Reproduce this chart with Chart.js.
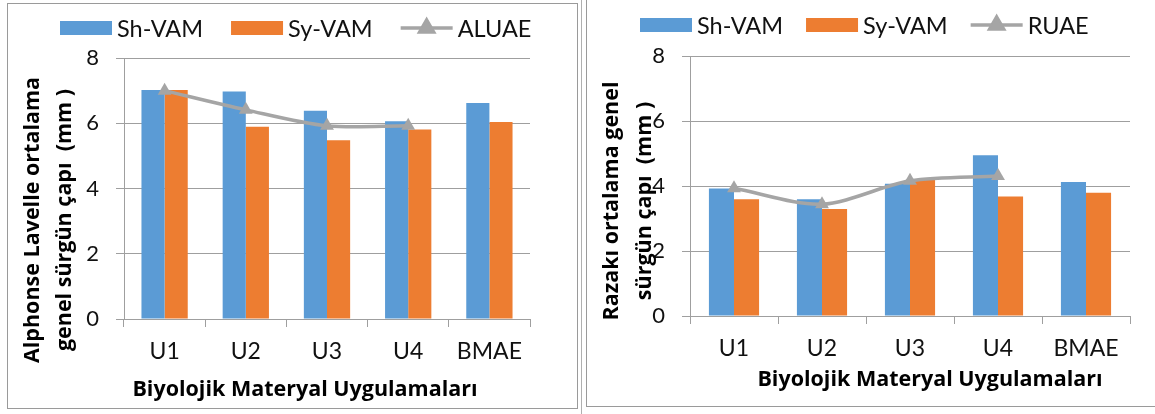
<!DOCTYPE html>
<html lang="tr">
<head>
<meta charset="utf-8">
<title>Sürgün çapı grafikleri</title>
<script src="https://cdn.jsdelivr.net/npm/chart.js@4.4.1/dist/chart.umd.min.js"></script>
<style>
  html, body { margin: 0; padding: 0; background: #fff; }
  body { width: 1155px; height: 414px; position: relative; overflow: hidden; }
  .frame { position: absolute; box-sizing: border-box; }
  #frameLeft { left: 7px; top: 3px; width: 571px; height: 406px; border: 1px solid #9a9a9a; }
  #frameRight { left: 586px; top: 0; width: 580px; height: 407px; border-left: 1px solid #9a9a9a; border-bottom: 1px solid #9a9a9a; }
  #sep { left: 581px; top: 0; width: 1px; height: 414px; background: #b0b0b0; }
  .box { position: absolute; }
  #boxLeft { left: 7px; top: 3px; width: 570px; height: 405px; }
  #boxRight { left: 587px; top: 3px; width: 568px; height: 405px; }
  canvas { display: block; }
</style>
</head>
<body>
<div class="frame" id="frameLeft"></div>
<div class="frame" id="sep"></div>
<div class="frame" id="frameRight"></div>
<div class="box" id="boxLeft"><canvas id="chartLeft"></canvas></div>
<div class="box" id="boxRight"><canvas id="chartRight"></canvas></div>
<script>
// Categories (biological material treatments)
const categories = ['U1', 'U2', 'U3', 'U4', 'BMAE'];

// Alphonse Lavelle mean shoot diameter (mm)
const alShVam = [7.02, 6.97, 6.38, 6.06, 6.62];
const alSyVam = [7.02, 5.89, 5.48, 5.81, 6.04];
const aluae   = [7.00, 6.41, 5.92, 5.92, null];

// Razakı mean shoot diameter (mm)
const rzShVam = [3.92, 3.59, 4.07, 4.95, 4.12];
const rzSyVam = [3.59, 3.29, 4.20, 3.68, 3.79];
const ruae    = [3.93, 3.44, 4.16, 4.31, null];

// Y axis tick values
const yTicks = [0, 2, 4, 6, 8];

const BLUE = '#5B9BD5';
const ORANGE = '#ED7D31';
const GREY = '#A5A5A5';
const GRID = '#9f9f9f';
const TEXT = '#111111';
const FONT = 'Lato';
const TITLE_FONT = '"Open Sans"';

// Legend drawn in a single row: bar swatches and a line-with-marker sample
const rowLegend = {
  id: 'rowLegend',
  afterDraw(chart, args, o) {
    const ctx = chart.ctx;
    ctx.save();
    ctx.font = `${o.size}px ${FONT}`;
    ctx.textBaseline = 'middle';
    ctx.textAlign = 'left';
    let x = o.x;
    const y = o.y;
    o.order.forEach(i => {
      const ds = chart.data.datasets[i];
      const w = 52;
      if (ds.type === 'line') {
        ctx.strokeStyle = ds.borderColor;
        ctx.lineWidth = ds.borderWidth;
        ctx.beginPath();
        ctx.moveTo(x, y);
        ctx.lineTo(x + w, y);
        ctx.stroke();
        Chart.helpers.drawPoint(ctx, {
          pointStyle: 'triangle', radius: ds.pointRadius, rotation: 0, borderWidth: 1
        }, x + w / 2, y);
        ctx.fillStyle = ds.backgroundColor;
        ctx.fill();
      } else {
        ctx.fillStyle = ds.backgroundColor;
        ctx.fillRect(x, y - 7, w, 14);
      }
      x += w + 5;
      ctx.fillStyle = TEXT;
      ctx.fillText(ds.label, x, y + 1);
      x += ctx.measureText(ds.label).width + o.gap;
    });
    ctx.restore();
  }
};

// Axis titles placed freely around the plot
const axisTitles = {
  id: 'axisTitles',
  afterDraw(chart, args, o) {
    const ctx = chart.ctx;
    ctx.save();
    ctx.fillStyle = '#000';
    ctx.font = `bold ${o.size}px ${TITLE_FONT}`;
    ctx.textAlign = 'center';
    ctx.textBaseline = 'middle';
    o.yLines.forEach((line, k) => {
      ctx.save();
      ctx.translate(o.yX[k], o.yY);
      ctx.rotate(-Math.PI / 2);
      ctx.fillText(line, 0, 0);
      ctx.restore();
    });
    ctx.fillText(o.xText, o.xX, o.xY);
    ctx.restore();
  }
};

function makeChart(canvasId, shVals, syVals, lineVals, lineLabel, geom) {
  const data = {
    labels: categories,
    datasets: [
      { type: 'bar', label: 'Sh-VAM', data: shVals, backgroundColor: BLUE, order: 2 },
      { type: 'bar', label: 'Sy-VAM', data: syVals, backgroundColor: ORANGE, order: 2 },
      {
        type: 'line', label: lineLabel, data: lineVals,
        borderColor: GREY, backgroundColor: GREY, borderWidth: 3.5,
        pointStyle: 'triangle', pointRadius: 8, pointBorderWidth: 0,
        pointBackgroundColor: GREY, tension: 0.3, order: 0, spanGaps: false
      }
    ]
  };
  return new Chart(document.getElementById(canvasId), {
    type: 'bar',
    data,
    plugins: [rowLegend, axisTitles],
    options: {
      responsive: true,
      maintainAspectRatio: false,
      animation: false,
      events: [],
      datasets: { bar: { categoryPercentage: 0.57, barPercentage: 1.0 } },
      layout: { padding: { left: 0, right: geom.padRight, top: geom.padTop, bottom: 0 } },
      plugins: {
        legend: { display: false },
        tooltip: { enabled: false },
        rowLegend: { x: 53, y: geom.legendY, size: 23.5, gap: geom.legendGap, order: [0, 1, 2] },
        axisTitles: geom.titles
      },
      scales: {
        x: {
          offset: true,
          grid: { offset: true, drawOnChartArea: false, drawTicks: true, tickLength: 8, color: GRID },
          border: { display: true, color: GRID, width: 1 },
          ticks: { color: TEXT, font: { family: FONT, size: 23 }, padding: 11, maxRotation: 0 },
          afterFit(scale) { scale.height = geom.xHeight; }
        },
        y: {
          min: yTicks[0], max: yTicks[yTicks.length - 1],
          afterBuildTicks(scale) { scale.ticks = yTicks.map(v => ({ value: v })); },
          grid: { color: GRID, tickLength: 8, lineWidth: 1 },
          border: { display: true, color: GRID, width: 1 },
          ticks: { color: TEXT, font: { family: FONT, size: 22 }, padding: 17 },
          afterFit(scale) { scale.width = geom.yWidth; }
        }
      }
    }
  });
}

Chart.defaults.font.family = FONT;

function draw() {
  makeChart('chartLeft', alShVam, alSyVam, aluae, 'ALUAE', {
    padRight: 47, padTop: 55, xHeight: 89, yWidth: 117, legendY: 25, legendGap: 28,
    titles: {
      size: 21.5,
      yLines: ['Alphonse Lavelle ortalama', 'genel sürgün çapı  (mm )'],
      yX: [26, 58], yY: 217,
      xText: 'Biyolojik Materyal Uygulamaları', xX: 298, xY: 387
    }
  });
  makeChart('chartRight', rzShVam, rzSyVam, ruae, 'RUAE', {
    padRight: 25, padTop: 53, xHeight: 92, yWidth: 103, legendY: 22, legendGap: 23,
    titles: {
      size: 21.5,
      yLines: ['Razakı ortalama genel', 'sürgün çapı  (mm )'],
      yX: [25, 58], yY: 198,
      xText: 'Biyolojik Materyal Uygulamaları', xX: 343, xY: 377
    }
  });
}

if (document.fonts && document.fonts.load) {
  Promise.all([
    document.fonts.load(`22px ${FONT}`),
    document.fonts.load(`bold 22px ${TITLE_FONT}`)
  ]).then(draw, draw);
} else {
  draw();
}
</script>
</body>
</html>
